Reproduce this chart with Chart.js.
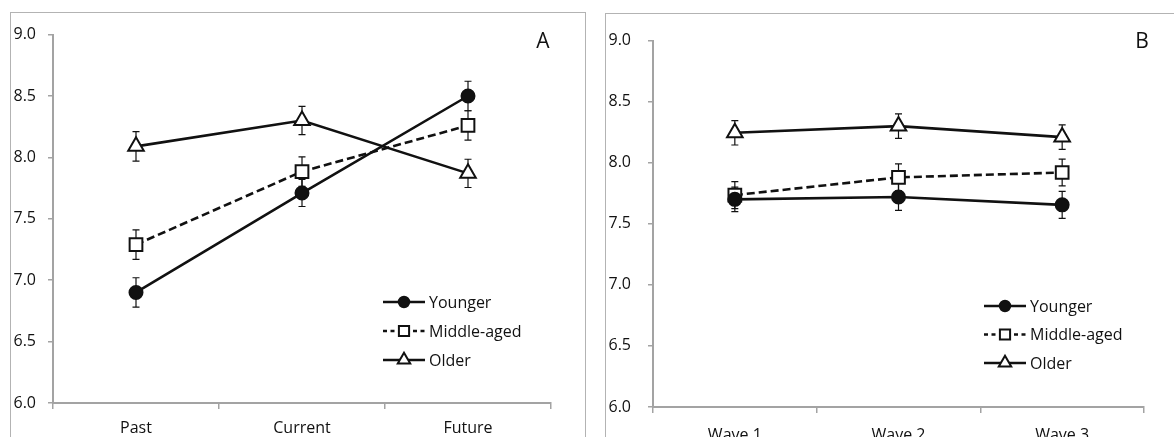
<!DOCTYPE html>
<html>
<head>
<meta charset="utf-8">
<script src="https://cdn.jsdelivr.net/npm/chart.js@4.4.1/dist/chart.umd.min.js"></script>
<style>
  html, body { margin: 0; padding: 0; background: #fff; overflow: hidden; width: 1174px; height: 437px; }
  .panel { position: absolute; border: 1px solid #b3b3b3; background: #fff; }
  #boxA { left: 10px; top: 12px; width: 574px; height: 440px; }
  #boxB { left: 605px; top: 13px; width: 600px; height: 440px; }
  canvas { display: block; }
</style>
</head>
<body>
<div class="panel" id="boxA"><canvas id="chartA" width="574" height="440"></canvas></div>
<div class="panel" id="boxB"><canvas id="chartB" width="600" height="440"></canvas></div>
<script>
// valores
const categoriesA = ['Past', 'Current', 'Future'];
const youngerA    = [6.90, 7.71, 8.50];
const middleA     = [7.29, 7.885, 8.26];
const olderA      = [8.09, 8.30, 7.87];
const errYoungerA = [0.12, 0.11, 0.12];
const errMiddleA  = [0.12, 0.12, 0.12];
const errOlderA   = [0.12, 0.115, 0.115];

const categoriesB = ['Wave 1', 'Wave 2', 'Wave 3'];
const youngerB    = [7.70, 7.72, 7.655];
const middleB     = [7.735, 7.88, 7.92];
const olderB      = [8.245, 8.30, 8.21];
const errYoungerB = [0.10, 0.11, 0.11];
const errMiddleB  = [0.11, 0.11, 0.11];
const errOlderB   = [0.10, 0.10, 0.10];

const yTickValues = [6.0, 6.5, 7.0, 7.5, 8.0, 8.5, 9.0];
const seriesLabels = ['Younger', 'Middle-aged', 'Older'];

const FONT = '"Open Sans", "DejaVu Sans", sans-serif';
const INK  = '#111';
const AXIS = '#a3a3a3';

// barras de erro (desenhadas antes dos marcadores)
const errorBars = {
  id: 'errorBars',
  beforeDatasetsDraw(chart) {
    const { ctx } = chart;
    const yScale = chart.scales.y;
    ctx.save();
    ctx.strokeStyle = INK;
    ctx.lineWidth = 1.2;
    chart.data.datasets.forEach((ds, i) => {
      const meta = chart.getDatasetMeta(i);
      meta.data.forEach((pt, j) => {
        const e = ds.errors[j];
        const top = yScale.getPixelForValue(ds.data[j] + e);
        const bot = yScale.getPixelForValue(ds.data[j] - e);
        const x = pt.x;
        ctx.beginPath();
        ctx.moveTo(x, top); ctx.lineTo(x, bot);
        ctx.moveTo(x - 3.5, top); ctx.lineTo(x + 3.5, top);
        ctx.moveTo(x - 3.5, bot); ctx.lineTo(x + 3.5, bot);
        ctx.stroke();
      });
    });
    ctx.restore();
  }
};

// legenda dentro da área do gráfico + letra do painel
const innerLegend = {
  id: 'innerLegend',
  afterDraw(chart, args, opts) {
    const { ctx } = chart;
    ctx.save();
    chart.data.datasets.forEach((ds, i) => {
      const x = opts.x;
      const y = opts.y + i * opts.gap;
      ctx.strokeStyle = ds.borderColor;
      ctx.lineWidth = ds.borderWidth;
      ctx.setLineDash(ds.borderDash ? [4, 3.5] : []);
      ctx.beginPath();
      ctx.moveTo(x, y); ctx.lineTo(x + 42, y);
      ctx.stroke();
      ctx.setLineDash([]);
      ctx.fillStyle = ds.pointBackgroundColor;
      ctx.strokeStyle = ds.pointBorderColor;
      ctx.lineWidth = ds.pointBorderWidth;
      Chart.helpers.drawPoint(ctx, {
        pointStyle: ds.pointStyle,
        radius: ds.pointRadius * 0.8,
        borderWidth: ds.pointBorderWidth,
        rotation: 0
      }, x + 21, y);
      ctx.fillStyle = INK;
      ctx.font = '16px ' + FONT;
      ctx.textBaseline = 'middle';
      ctx.textAlign = 'left';
      ctx.fillText(ds.label, x + 46, y + 1);
    });
    ctx.font = '21px ' + FONT;
    ctx.textAlign = 'center';
    ctx.textBaseline = 'middle';
    ctx.fillStyle = INK;
    ctx.fillText(opts.letter, opts.letterX, opts.letterY);
    ctx.restore();
  }
};

function makeDatasets(younger, middle, older, errY, errM, errO) {
  const base = { borderColor: INK, borderWidth: 2.6, pointBorderColor: INK, pointBorderWidth: 2, fill: false, tension: 0 };
  return [
    { ...base, label: seriesLabels[0], data: younger, errors: errY,
      pointStyle: 'circle', pointRadius: 6.5, pointBackgroundColor: INK },
    { ...base, label: seriesLabels[1], data: middle, errors: errM, borderDash: [8, 4],
      pointStyle: 'rect', pointRadius: 9, pointBackgroundColor: '#fff' },
    { ...base, label: seriesLabels[2], data: older, errors: errO,
      pointStyle: 'triangle', pointRadius: 9, pointBackgroundColor: '#fff' }
  ];
}

function makeChart(id, labels, datasets, cfg) {
  return new Chart(document.getElementById(id), {
    type: 'line',
    data: { labels, datasets },
    plugins: [errorBars, innerLegend],
    options: {
      responsive: false,
      animation: false,
      layout: { padding: { left: 0, top: cfg.top, right: cfg.right, bottom: 0 } },
      plugins: {
        legend: { display: false },
        tooltip: { enabled: false },
        innerLegend: cfg.legend
      },
      scales: {
        x: {
          offset: true,
          grid: { offset: true, drawOnChartArea: false, drawTicks: true, tickLength: 6, color: AXIS, lineWidth: 1.5 },
          border: { display: true, color: AXIS, width: 2 },
          ticks: { color: INK, font: { family: FONT, size: 16 }, padding: cfg.xPad },
          afterFit: s => { s.height = cfg.xHeight; }
        },
        y: {
          min: 6, max: 9,
          afterBuildTicks: s => { s.ticks = yTickValues.map(v => ({ value: v })); },
          grid: { drawOnChartArea: false, drawTicks: true, tickLength: 5, color: AXIS, lineWidth: 1.5 },
          border: { display: true, color: AXIS, width: 2 },
          ticks: { color: INK, font: { family: FONT, size: 16 }, padding: cfg.yPad,
                   callback: v => Number(v).toFixed(1) },
          afterFit: s => { s.width = cfg.yWidth; }
        }
      }
    }
  });
}

makeChart('chartA', categoriesA,
  makeDatasets(youngerA, middleA, olderA, errYoungerA, errMiddleA, errOlderA),
  { top: 13, right: 34, xHeight: 50, xPad: 10, yWidth: 42, yPad: 12,
    legend: { x: 372, y: 289, gap: 29, letter: 'A', letterX: 532, letterY: 29 } });

makeChart('chartB', categoriesB,
  makeDatasets(youngerB, middleB, olderB, errYoungerB, errMiddleB, errOlderB),
  { top: 12, right: 62, xHeight: 47, xPad: 13, yWidth: 47, yPad: 17,
    legend: { x: 378, y: 292, gap: 28.5, letter: 'B', letterX: 536, letterY: 28 } });
</script>
</body>
</html>
